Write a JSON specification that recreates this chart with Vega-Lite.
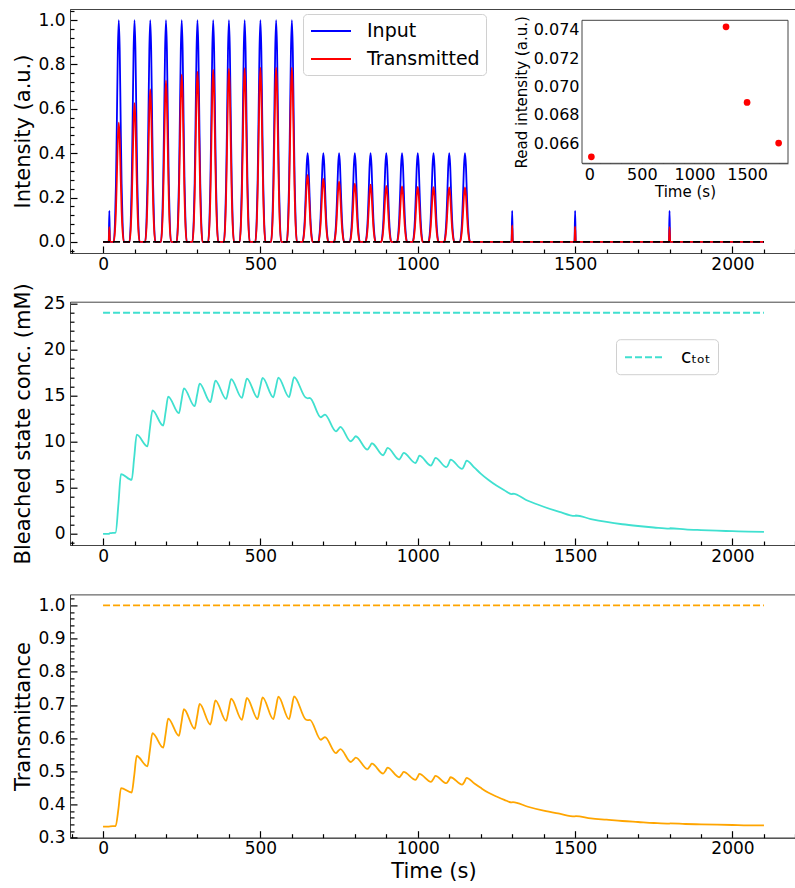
{
  "$schema": "https://vega.github.io/schema/vega-lite/v6.json",
  "padding": {"left": 11, "top": 8, "right": 0, "bottom": 5},
  "bounds": "flush",
  "spacing": 48.7,
  "resolve": {"scale": {"color": "independent"}},
  "config": {
    "font": "DejaVu Sans",
    "view": {"stroke": "#444", "strokeWidth": 1},
    "axis": {"grid": false, "labelFontSize": 17, "titleFontSize": 21, "titleFontWeight": "normal", "labelColor": "#000", "titleColor": "#000", "domainColor": "#444", "tickColor": "#000", "tickWidth": 1.2, "labelFlush": false, "labelOverlap": false, "labelBound": false}
  },
  "datasets": {
    "pulse": [
      {"t":0,"i":0,"o":0},
      {"t":18,"i":0,"o":0},{"t":20,"i":0.14,"o":0.066},{"t":22,"i":0,"o":0},
      {"t":34,"i":0,"o":0},{"t":38,"i":0.093,"o":0.05},{"t":41,"i":0.262,"o":0.141},{"t":44,"i":0.551,"o":0.296},{"t":47,"i":0.862,"o":0.464},{"t":50,"i":1,"o":0.538},{"t":53,"i":0.862,"o":0.464},{"t":56,"i":0.551,"o":0.296},{"t":59,"i":0.262,"o":0.141},{"t":62,"i":0.093,"o":0.05},{"t":66,"i":0,"o":0},
      {"t":84,"i":0,"o":0},{"t":88,"i":0.093,"o":0.058},{"t":91,"i":0.262,"o":0.164},{"t":94,"i":0.551,"o":0.345},{"t":97,"i":0.862,"o":0.54},{"t":100,"i":1,"o":0.626},{"t":103,"i":0.862,"o":0.54},{"t":106,"i":0.551,"o":0.345},{"t":109,"i":0.262,"o":0.164},{"t":112,"i":0.093,"o":0.058},{"t":116,"i":0,"o":0},
      {"t":134,"i":0,"o":0},{"t":138,"i":0.093,"o":0.064},{"t":141,"i":0.262,"o":0.18},{"t":144,"i":0.551,"o":0.379},{"t":147,"i":0.862,"o":0.593},{"t":150,"i":1,"o":0.688},{"t":153,"i":0.862,"o":0.593},{"t":156,"i":0.551,"o":0.379},{"t":159,"i":0.262,"o":0.18},{"t":162,"i":0.093,"o":0.064},{"t":166,"i":0,"o":0},
      {"t":184,"i":0,"o":0},{"t":188,"i":0.093,"o":0.068},{"t":191,"i":0.262,"o":0.19},{"t":194,"i":0.551,"o":0.401},{"t":197,"i":0.862,"o":0.627},{"t":200,"i":1,"o":0.727},{"t":203,"i":0.862,"o":0.627},{"t":206,"i":0.551,"o":0.401},{"t":209,"i":0.262,"o":0.19},{"t":212,"i":0.093,"o":0.068},{"t":216,"i":0,"o":0},
      {"t":234,"i":0,"o":0},{"t":238,"i":0.093,"o":0.07},{"t":241,"i":0.262,"o":0.198},{"t":244,"i":0.551,"o":0.415},{"t":247,"i":0.862,"o":0.65},{"t":250,"i":1,"o":0.754},{"t":253,"i":0.862,"o":0.65},{"t":256,"i":0.551,"o":0.415},{"t":259,"i":0.262,"o":0.198},{"t":262,"i":0.093,"o":0.07},{"t":266,"i":0,"o":0},
      {"t":284,"i":0,"o":0},{"t":288,"i":0.093,"o":0.071},{"t":291,"i":0.262,"o":0.201},{"t":294,"i":0.551,"o":0.423},{"t":297,"i":0.862,"o":0.662},{"t":300,"i":1,"o":0.768},{"t":303,"i":0.862,"o":0.662},{"t":306,"i":0.551,"o":0.423},{"t":309,"i":0.262,"o":0.201},{"t":312,"i":0.093,"o":0.071},{"t":316,"i":0,"o":0},
      {"t":334,"i":0,"o":0},{"t":338,"i":0.093,"o":0.072},{"t":341,"i":0.262,"o":0.204},{"t":344,"i":0.551,"o":0.428},{"t":347,"i":0.862,"o":0.67},{"t":350,"i":1,"o":0.777},{"t":353,"i":0.862,"o":0.67},{"t":356,"i":0.551,"o":0.428},{"t":359,"i":0.262,"o":0.204},{"t":362,"i":0.093,"o":0.072},{"t":366,"i":0,"o":0},
      {"t":384,"i":0,"o":0},{"t":388,"i":0.093,"o":0.073},{"t":391,"i":0.262,"o":0.205},{"t":394,"i":0.551,"o":0.43},{"t":397,"i":0.862,"o":0.673},{"t":400,"i":1,"o":0.781},{"t":403,"i":0.862,"o":0.673},{"t":406,"i":0.551,"o":0.43},{"t":409,"i":0.262,"o":0.205},{"t":412,"i":0.093,"o":0.073},{"t":416,"i":0,"o":0},
      {"t":434,"i":0,"o":0},{"t":438,"i":0.093,"o":0.073},{"t":441,"i":0.262,"o":0.205},{"t":444,"i":0.551,"o":0.431},{"t":447,"i":0.862,"o":0.675},{"t":450,"i":1,"o":0.783},{"t":453,"i":0.862,"o":0.675},{"t":456,"i":0.551,"o":0.431},{"t":459,"i":0.262,"o":0.205},{"t":462,"i":0.093,"o":0.073},{"t":466,"i":0,"o":0},
      {"t":484,"i":0,"o":0},{"t":488,"i":0.093,"o":0.073},{"t":491,"i":0.262,"o":0.206},{"t":494,"i":0.551,"o":0.433},{"t":497,"i":0.862,"o":0.678},{"t":500,"i":1,"o":0.786},{"t":503,"i":0.862,"o":0.678},{"t":506,"i":0.551,"o":0.433},{"t":509,"i":0.262,"o":0.206},{"t":512,"i":0.093,"o":0.073},{"t":516,"i":0,"o":0},
      {"t":534,"i":0,"o":0},{"t":538,"i":0.093,"o":0.073},{"t":541,"i":0.262,"o":0.206},{"t":544,"i":0.551,"o":0.433},{"t":547,"i":0.862,"o":0.678},{"t":550,"i":1,"o":0.786},{"t":553,"i":0.862,"o":0.678},{"t":556,"i":0.551,"o":0.433},{"t":559,"i":0.262,"o":0.206},{"t":562,"i":0.093,"o":0.073},{"t":566,"i":0,"o":0},
      {"t":584,"i":0,"o":0},{"t":588,"i":0.093,"o":0.073},{"t":591,"i":0.262,"o":0.206},{"t":594,"i":0.551,"o":0.433},{"t":597,"i":0.862,"o":0.678},{"t":600,"i":1,"o":0.786},{"t":603,"i":0.862,"o":0.678},{"t":606,"i":0.551,"o":0.433},{"t":609,"i":0.262,"o":0.206},{"t":612,"i":0.093,"o":0.073},{"t":616,"i":0,"o":0},
      {"t":634,"i":0,"o":0},{"t":638,"i":0.037,"o":0.028},{"t":641,"i":0.105,"o":0.079},{"t":644,"i":0.22,"o":0.166},{"t":647,"i":0.345,"o":0.26},{"t":650,"i":0.4,"o":0.302},{"t":653,"i":0.345,"o":0.26},{"t":656,"i":0.22,"o":0.166},{"t":659,"i":0.105,"o":0.079},{"t":662,"i":0.037,"o":0.028},{"t":666,"i":0,"o":0},
      {"t":684,"i":0,"o":0},{"t":688,"i":0.037,"o":0.026},{"t":691,"i":0.105,"o":0.074},{"t":694,"i":0.22,"o":0.156},{"t":697,"i":0.345,"o":0.245},{"t":700,"i":0.4,"o":0.284},{"t":703,"i":0.345,"o":0.245},{"t":706,"i":0.22,"o":0.156},{"t":709,"i":0.105,"o":0.074},{"t":712,"i":0.037,"o":0.026},{"t":716,"i":0,"o":0},
      {"t":734,"i":0,"o":0},{"t":738,"i":0.037,"o":0.025},{"t":741,"i":0.105,"o":0.071},{"t":744,"i":0.22,"o":0.15},{"t":747,"i":0.345,"o":0.234},{"t":750,"i":0.4,"o":0.272},{"t":753,"i":0.345,"o":0.234},{"t":756,"i":0.22,"o":0.15},{"t":759,"i":0.105,"o":0.071},{"t":762,"i":0.037,"o":0.025},{"t":766,"i":0,"o":0},
      {"t":784,"i":0,"o":0},{"t":788,"i":0.037,"o":0.024},{"t":791,"i":0.105,"o":0.069},{"t":794,"i":0.22,"o":0.145},{"t":797,"i":0.345,"o":0.227},{"t":800,"i":0.4,"o":0.263},{"t":803,"i":0.345,"o":0.227},{"t":806,"i":0.22,"o":0.145},{"t":809,"i":0.105,"o":0.069},{"t":812,"i":0.037,"o":0.024},{"t":816,"i":0,"o":0},
      {"t":834,"i":0,"o":0},{"t":838,"i":0.037,"o":0.024},{"t":841,"i":0.105,"o":0.068},{"t":844,"i":0.22,"o":0.142},{"t":847,"i":0.345,"o":0.222},{"t":850,"i":0.4,"o":0.258},{"t":853,"i":0.345,"o":0.222},{"t":856,"i":0.22,"o":0.142},{"t":859,"i":0.105,"o":0.068},{"t":862,"i":0.037,"o":0.024},{"t":866,"i":0,"o":0},
      {"t":884,"i":0,"o":0},{"t":888,"i":0.037,"o":0.023},{"t":891,"i":0.105,"o":0.066},{"t":894,"i":0.22,"o":0.139},{"t":897,"i":0.345,"o":0.217},{"t":900,"i":0.4,"o":0.252},{"t":903,"i":0.345,"o":0.217},{"t":906,"i":0.22,"o":0.139},{"t":909,"i":0.105,"o":0.066},{"t":912,"i":0.037,"o":0.023},{"t":916,"i":0,"o":0},
      {"t":934,"i":0,"o":0},{"t":938,"i":0.037,"o":0.023},{"t":941,"i":0.105,"o":0.066},{"t":944,"i":0.22,"o":0.138},{"t":947,"i":0.345,"o":0.216},{"t":950,"i":0.4,"o":0.25},{"t":953,"i":0.345,"o":0.216},{"t":956,"i":0.22,"o":0.138},{"t":959,"i":0.105,"o":0.066},{"t":962,"i":0.037,"o":0.023},{"t":966,"i":0,"o":0},
      {"t":984,"i":0,"o":0},{"t":988,"i":0.037,"o":0.023},{"t":991,"i":0.105,"o":0.065},{"t":994,"i":0.22,"o":0.137},{"t":997,"i":0.345,"o":0.214},{"t":1000,"i":0.4,"o":0.248},{"t":1003,"i":0.345,"o":0.214},{"t":1006,"i":0.22,"o":0.137},{"t":1009,"i":0.105,"o":0.065},{"t":1012,"i":0.037,"o":0.023},{"t":1016,"i":0,"o":0},
      {"t":1034,"i":0,"o":0},{"t":1038,"i":0.037,"o":0.023},{"t":1041,"i":0.105,"o":0.065},{"t":1044,"i":0.22,"o":0.136},{"t":1047,"i":0.345,"o":0.213},{"t":1050,"i":0.4,"o":0.247},{"t":1053,"i":0.345,"o":0.213},{"t":1056,"i":0.22,"o":0.136},{"t":1059,"i":0.105,"o":0.065},{"t":1062,"i":0.037,"o":0.023},{"t":1066,"i":0,"o":0},
      {"t":1084,"i":0,"o":0},{"t":1088,"i":0.037,"o":0.023},{"t":1091,"i":0.105,"o":0.064},{"t":1094,"i":0.22,"o":0.136},{"t":1097,"i":0.345,"o":0.212},{"t":1100,"i":0.4,"o":0.246},{"t":1103,"i":0.345,"o":0.212},{"t":1106,"i":0.22,"o":0.136},{"t":1109,"i":0.105,"o":0.064},{"t":1112,"i":0.037,"o":0.023},{"t":1116,"i":0,"o":0},
      {"t":1134,"i":0,"o":0},{"t":1138,"i":0.037,"o":0.023},{"t":1141,"i":0.105,"o":0.064},{"t":1144,"i":0.22,"o":0.136},{"t":1147,"i":0.345,"o":0.212},{"t":1150,"i":0.4,"o":0.246},{"t":1153,"i":0.345,"o":0.212},{"t":1156,"i":0.22,"o":0.136},{"t":1159,"i":0.105,"o":0.064},{"t":1162,"i":0.037,"o":0.023},{"t":1166,"i":0,"o":0},
      {"t":1298,"i":0,"o":0},{"t":1300,"i":0.14,"o":0.074},{"t":1302,"i":0,"o":0},
      {"t":1498,"i":0,"o":0},{"t":1500,"i":0.14,"o":0.069},{"t":1502,"i":0,"o":0},
      {"t":1798,"i":0,"o":0},{"t":1800,"i":0.14,"o":0.066},{"t":1802,"i":0,"o":0},
      {"t":2100,"i":0,"o":0}
    ],
    "state": [
      {"t":0,"b":0,"tr":0.333},{"t":18,"b":0,"tr":0.333},{"t":22,"b":0.08,"tr":0.334},{"t":40,"b":0.15,"tr":0.335},
      {"t":49,"b":3.3,"tr":0.387},{"t":57,"b":6.5,"tr":0.449},
      {"t":91,"b":5.86,"tr":0.436},{"t":99,"b":8.3,"tr":0.487},{"t":107,"b":10.78,"tr":0.546},
      {"t":141,"b":9.5,"tr":0.515},{"t":149,"b":11.5,"tr":0.564},{"t":157,"b":13.4,"tr":0.615},
      {"t":191,"b":11.76,"tr":0.571},{"t":199,"b":13.3,"tr":0.613},{"t":207,"b":14.9,"tr":0.659},
      {"t":241,"b":13.1,"tr":0.607},{"t":249,"b":14.45,"tr":0.646},{"t":257,"b":15.8,"tr":0.687},
      {"t":291,"b":13.86,"tr":0.628},{"t":299,"b":15.1,"tr":0.665},{"t":307,"b":16.3,"tr":0.703},
      {"t":341,"b":14.3,"tr":0.641},{"t":349,"b":15.45,"tr":0.676},{"t":357,"b":16.64,"tr":0.714},
      {"t":391,"b":14.65,"tr":0.652},{"t":399,"b":15.7,"tr":0.684},{"t":407,"b":16.8,"tr":0.719},
      {"t":441,"b":14.76,"tr":0.655},{"t":449,"b":15.8,"tr":0.687},{"t":457,"b":16.86,"tr":0.721},
      {"t":491,"b":14.83,"tr":0.657},{"t":499,"b":15.9,"tr":0.69},{"t":507,"b":16.93,"tr":0.723},
      {"t":541,"b":14.83,"tr":0.657},{"t":549,"b":15.9,"tr":0.69},{"t":557,"b":16.97,"tr":0.725},
      {"t":591,"b":14.85,"tr":0.657},{"t":599,"b":15.92,"tr":0.69},{"t":607,"b":17.0,"tr":0.726},
      {"t":644,"b":14.8,"tr":0.656},{"t":650,"b":14.72,"tr":0.654},{"t":657,"b":14.75,"tr":0.655},
      {"t":692,"b":12.66,"tr":0.595},{"t":698,"b":12.8,"tr":0.599},{"t":705,"b":12.95,"tr":0.603},
      {"t":740,"b":11.14,"tr":0.555},{"t":747,"b":11.35,"tr":0.561},{"t":754,"b":11.61,"tr":0.567},
      {"t":787,"b":10.06,"tr":0.528},{"t":795,"b":10.3,"tr":0.534},{"t":803,"b":10.6,"tr":0.541},
      {"t":840,"b":9.15,"tr":0.507},{"t":847,"b":9.45,"tr":0.514},{"t":854,"b":9.84,"tr":0.523},
      {"t":890,"b":8.54,"tr":0.493},{"t":897,"b":8.9,"tr":0.501},{"t":904,"b":9.33,"tr":0.511},
      {"t":941,"b":8.07,"tr":0.482},{"t":948,"b":8.4,"tr":0.489},{"t":955,"b":8.79,"tr":0.498},
      {"t":993,"b":7.7,"tr":0.474},{"t":999,"b":8.05,"tr":0.482},{"t":1005,"b":8.5,"tr":0.492},
      {"t":1042,"b":7.42,"tr":0.468},{"t":1049,"b":7.8,"tr":0.476},{"t":1056,"b":8.25,"tr":0.486},
      {"t":1091,"b":7.24,"tr":0.464},{"t":1098,"b":7.6,"tr":0.472},{"t":1104,"b":8.07,"tr":0.482},
      {"t":1141,"b":7.06,"tr":0.46},{"t":1148,"b":7.45,"tr":0.468},{"t":1155,"b":7.96,"tr":0.48},
      {"t":1180,"b":7.2,"tr":0.463},{"t":1200,"b":6.55,"tr":0.45},{"t":1225,"b":5.85,"tr":0.435},{"t":1250,"b":5.25,"tr":0.424},{"t":1275,"b":4.75,"tr":0.414},
      {"t":1299,"b":4.32,"tr":0.406},{"t":1302,"b":4.38,"tr":0.407},{"t":1350,"b":3.6,"tr":0.393},{"t":1400,"b":2.95,"tr":0.381},{"t":1450,"b":2.4,"tr":0.372},
      {"t":1499,"b":1.95,"tr":0.364},{"t":1502,"b":2.0,"tr":0.365},{"t":1550,"b":1.62,"tr":0.358},{"t":1600,"b":1.3,"tr":0.354},{"t":1650,"b":1.05,"tr":0.35},{"t":1700,"b":0.86,"tr":0.347},{"t":1750,"b":0.7,"tr":0.344},
      {"t":1799,"b":0.57,"tr":0.342},{"t":1802,"b":0.62,"tr":0.343},{"t":1850,"b":0.5,"tr":0.341},{"t":1900,"b":0.42,"tr":0.34},{"t":1950,"b":0.35,"tr":0.339},{"t":2000,"b":0.3,"tr":0.338},{"t":2050,"b":0.26,"tr":0.337},{"t":2100,"b":0.22,"tr":0.337}
    ],
    "read": [
      {"t":20,"r":0.06503},{"t":1300,"r":0.07421},{"t":1500,"r":0.06887},{"t":1800,"r":0.066}
    ],
    "ref": [
      {"t":0,"zero":0,"ctot":24,"one":1},{"t":2100,"zero":0,"ctot":24,"one":1}
    ]
  },
  "vconcat": [
    {
      "width": 727, "height": 244,
      "layer": [
        {
          "data": {"name": "pulse"},
          "layer": [
            {
              "mark": {"type": "line", "interpolate": "monotone", "strokeWidth": 1.8},
              "encoding": {
                "x": {"field": "t", "type": "quantitative", "scale": {"domain": [-105, 2205], "nice": false, "zero": false},
                  "axis": {"title": null, "values": [0,500,1000,1500,2000], "format": "d", "tickSize": -7, "labelPadding": 10, "labelOverlap": false}},
                "y": {"field": "i", "type": "quantitative", "scale": {"domain": [-0.05, 1.05], "nice": false, "zero": false},
                  "axis": {"title": "Intensity (a.u.)", "titleX": -37, "format": ".1f", "values": [0,0.2,0.4,0.6,0.8,1], "tickSize": -7, "labelPadding": 12, "labelOverlap": false}},
                "color": {"datum": "Input", "type": "nominal", "scale": {"domain": ["Input", "Transmitted"], "range": ["#0000ff", "#ff0000"]},
                  "legend": {"orient": "none", "legendX": 233, "legendY": 5, "direction": "vertical", "title": null, "symbolType": "M-2,0H2", "symbolSize": 400, "symbolOffset": 11, "symbolStrokeWidth": 2, "labelFontSize": 19, "labelOffset": 25, "rowPadding": 7, "padding": 6, "strokeColor": "#d0d0d0", "fillColor": "white", "cornerRadius": 4}}
              }
            },
            {
              "mark": {"type": "line", "interpolate": "monotone", "strokeWidth": 1.8},
              "encoding": {
                "x": {"field": "t", "type": "quantitative"},
                "y": {"field": "o", "type": "quantitative"},
                "color": {"datum": "Transmitted", "type": "nominal"}
              }
            }
          ]
        },
        {
          "data": {"name": "ref"},
          "mark": {"type": "line", "color": "black", "strokeDash": [7, 3], "strokeWidth": 1.8},
          "encoding": {
            "x": {"field": "t", "type": "quantitative", "scale": {"domain": [-105, 2205], "nice": false, "zero": false},
              "axis": {"orient": "bottom", "title": null, "labels": false, "domain": false, "tickSize": -4, "values": [-100,100,200,300,400,600,700,800,900,1100,1200,1300,1400,1600,1700,1800,1900,2100,2200]}},
            "y": {"field": "zero", "type": "quantitative", "scale": {"domain": [-0.05, 1.05], "nice": false, "zero": false},
              "axis": {"orient": "left", "title": null, "labels": false, "domain": false, "tickSize": -4, "values": [-0.04,0.04,0.08,0.12,0.16,0.24,0.28,0.32,0.36,0.44,0.48,0.52,0.56,0.64,0.68,0.72,0.76,0.84,0.88,0.92,0.96,1.04]}}
          }
        },
        {
          "data": {"values": [{}]},
          "mark": {"type": "rect", "fill": "white", "stroke": "#444", "strokeWidth": 1},
          "encoding": {
            "x": {"datum": -69, "type": "quantitative", "scale": {"domain": [-69, 1889], "range": [512, 718], "nice": false, "zero": false},
              "axis": {"orient": "bottom", "offset": -89.7, "title": null, "labels": false, "domain": false, "tickSize": -3, "values": [100,200,300,400,600,700,800,900,1100,1200,1300,1400,1600,1700,1800]}},
            "x2": {"datum": 1889},
            "y": {"datum": 0.06457, "type": "quantitative", "scale": {"domain": [0.06457, 0.07467], "range": [154.3, 11.3], "nice": false, "zero": false},
              "axis": {"orient": "left", "offset": -512, "title": null, "labels": false, "domain": false, "tickSize": -3, "values": [0.0648,0.0652,0.0656,0.0664,0.0668,0.0672,0.0676,0.0684,0.0688,0.0692,0.0696,0.0704,0.0708,0.0712,0.0716,0.0724,0.0728,0.0732,0.0736,0.0744]}},
            "y2": {"datum": 0.07467}
          }
        },
        {
          "data": {"name": "read"},
          "mark": {"type": "circle", "color": "#ff0000", "size": 45, "opacity": 1},
          "encoding": {
            "x": {"field": "t", "type": "quantitative", "scale": {"domain": [-69, 1889], "range": [512, 718], "nice": false, "zero": false},
              "axis": {"orient": "bottom", "offset": -89.7, "title": "Time (s)", "titleFontSize": 15, "titlePadding": 2, "labelFontSize": 16, "values": [0,500,1000,1500], "format": "d", "tickSize": -6, "labelPadding": 9, "labelOverlap": false}},
            "y": {"field": "r", "type": "quantitative", "scale": {"domain": [0.06457, 0.07467], "range": [154.3, 11.3], "nice": false, "zero": false},
              "axis": {"orient": "left", "offset": -512, "title": "Read intensity (a.u.)", "titleFontSize": 15, "titlePadding": 4, "labelFontSize": 16, "format": ".3f", "values": [0.066,0.068,0.07,0.072,0.074], "tickSize": -6, "labelPadding": 9, "labelOverlap": false}}
          }
        }
      ],
      "resolve": {"scale": {"x": "independent", "y": "independent"}}
    },
    {
      "width": 727, "height": 243.3,
      "layer": [
        {
          "data": {"name": "state"},
          "mark": {"type": "line", "interpolate": "monotone", "color": "#40e0d0", "strokeWidth": 1.8},
          "encoding": {
            "x": {"field": "t", "type": "quantitative", "scale": {"domain": [-105, 2205], "nice": false, "zero": false},
              "axis": {"title": null, "values": [0,500,1000,1500,2000], "format": "d", "tickSize": -7, "labelPadding": 10, "labelOverlap": false}},
            "y": {"field": "b", "type": "quantitative", "scale": {"domain": [-1.2, 25.2], "nice": false, "zero": false},
              "axis": {"title": "Bleached state conc. (mM)", "titleX": -37, "values": [0,5,10,15,20,25], "format": "d", "tickSize": -7, "labelPadding": 12, "labelOverlap": false}}
          }
        },
        {
          "data": {"name": "ref"},
          "mark": {"type": "line", "strokeDash": [7, 3], "strokeWidth": 1.8},
          "encoding": {
            "x": {"field": "t", "type": "quantitative", "scale": {"domain": [-105, 2205], "nice": false, "zero": false},
              "axis": {"orient": "bottom", "title": null, "labels": false, "domain": false, "tickSize": -4, "values": [-100,100,200,300,400,600,700,800,900,1100,1200,1300,1400,1600,1700,1800,1900,2100,2200]}},
            "y": {"field": "ctot", "type": "quantitative", "scale": {"domain": [-1.2, 25.2], "nice": false, "zero": false},
              "axis": {"orient": "left", "title": null, "labels": false, "domain": false, "tickSize": -4, "values": [-1,1,2,3,4,6,7,8,9,11,12,13,14,16,17,18,19,21,22,23,24]}},
            "color": {"datum": "cₜₒₜ", "type": "nominal", "scale": {"domain": ["cₜₒₜ"], "range": ["#40e0d0"]},
              "legend": {"orient": "none", "legendX": 546, "legendY": 37.5, "title": null, "symbolType": "M-2,0H2", "symbolSize": 400, "symbolOffset": 11, "symbolDash": [7, 3], "symbolStrokeWidth": 2, "labelFontSize": 19, "labelOffset": 25, "padding": 7, "strokeColor": "#d0d0d0", "fillColor": "white", "cornerRadius": 4}}
          }
        }
      ],
      "resolve": {"scale": {"x": "independent", "y": "independent"}}
    },
    {
      "width": 727, "height": 243.3,
      "layer": [
        {
          "data": {"name": "state"},
          "mark": {"type": "line", "interpolate": "monotone", "color": "#ffa500", "strokeWidth": 1.8},
          "encoding": {
            "x": {"field": "t", "type": "quantitative", "scale": {"domain": [-105, 2205], "nice": false, "zero": false},
              "axis": {"title": "Time (s)", "values": [0,500,1000,1500,2000], "format": "d", "tickSize": -7, "labelPadding": 10, "titlePadding": 4, "labelOverlap": false}},
            "y": {"field": "tr", "type": "quantitative", "scale": {"domain": [0.2997, 1.0333], "nice": false, "zero": false},
              "axis": {"title": "Transmittance", "titleX": -37, "format": ".1f", "values": [0.3,0.4,0.5,0.6,0.7,0.8,0.9,1], "tickSize": -7, "labelPadding": 12, "labelOverlap": false}}
          }
        },
        {
          "data": {"name": "ref"},
          "mark": {"type": "line", "color": "#ffa500", "strokeDash": [7, 3], "strokeWidth": 1.8},
          "encoding": {
            "x": {"field": "t", "type": "quantitative", "scale": {"domain": [-105, 2205], "nice": false, "zero": false},
              "axis": {"orient": "bottom", "title": null, "labels": false, "domain": false, "tickSize": -4, "values": [-100,100,200,300,400,600,700,800,900,1100,1200,1300,1400,1600,1700,1800,1900,2100,2200]}},
            "y": {"field": "one", "type": "quantitative", "scale": {"domain": [0.2997, 1.0333], "nice": false, "zero": false},
              "axis": {"orient": "left", "title": null, "labels": false, "domain": false, "tickSize": -4, "values": [0.32,0.34,0.36,0.38,0.42,0.44,0.46,0.48,0.52,0.54,0.56,0.58,0.62,0.64,0.66,0.68,0.72,0.74,0.76,0.78,0.82,0.84,0.86,0.88,0.92,0.94,0.96,0.98,1.02]}}
          }
        }
      ],
      "resolve": {"scale": {"x": "independent", "y": "independent"}}
    }
  ]
}
